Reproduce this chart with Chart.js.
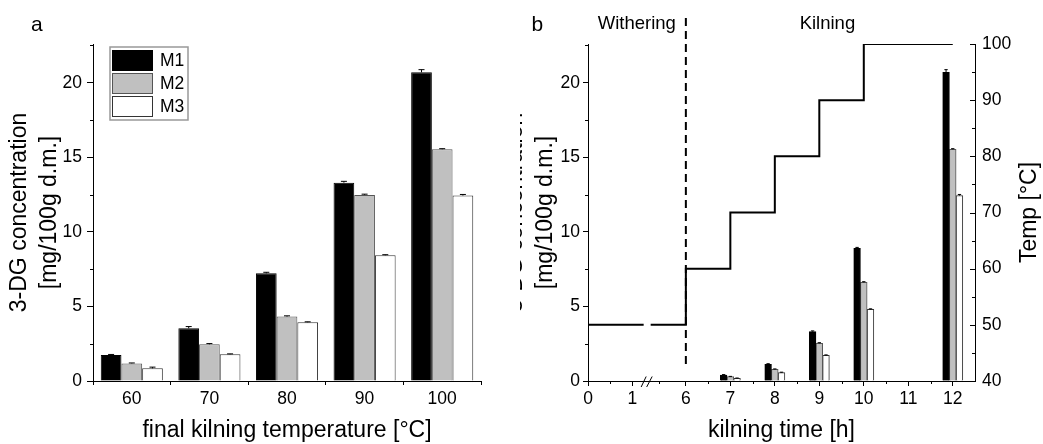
<!DOCTYPE html>
<html>
<head>
<meta charset="utf-8">
<script src="https://cdn.jsdelivr.net/npm/chart.js@4/dist/chart.umd.min.js"></script>
<style>
  body { margin: 0; background: #fff; }
  #wrap { display: flex; width: 1043px; height: 444px; }
  canvas { display: block; }
</style>
</head>
<body>
<div id="wrap">
  <canvas id="chartA" width="520" height="444"></canvas>
  <canvas id="chartB" width="523" height="444"></canvas>
</div>
<script>
// --- data: panel a (final kilning temperature) ---
const tempLabels = ["60", "70", "80", "90", "100"];
const seriesNames = ["M1", "M2", "M3"];
const m1 = [1.74, 3.53, 7.22, 13.30, 20.70];
const m2 = [1.18, 2.46, 4.32, 12.48, 15.54];
const m3 = [0.85, 1.79, 3.94, 8.43, 12.44];
const m1Err = [0.04, 0.12, 0.07, 0.09, 0.18];
const m2Err = [0.03, 0.05, 0.05, 0.05, 0.04];
const m3Err = [0.08, 0.03, 0.03, 0.04, 0.07];

// --- data: panel b (kilning time) ---
const timeLabels = ["0", "1", "6", "7", "8", "9", "10", "11", "12"];
const timeHours = [0, 1, 6, 7, 8, 9, 10, 11, 12];
const sampleHours = [7, 8, 9, 10, 12];
const kilnM1 = [0.40, 1.12, 3.31, 8.90, 20.70];
const kilnM2 = [0.29, 0.78, 2.53, 6.62, 15.54];
const kilnM3 = [0.18, 0.56, 1.72, 4.81, 12.44];
const kilnM1Err = [0.03, 0.04, 0.05, 0.06, 0.18];
const kilnM2Err = [0.02, 0.03, 0.04, 0.04, 0.04];
const kilnM3Err = [0.02, 0.03, 0.03, 0.03, 0.07];
const stepHours = [0, 6, 7, 8, 9, 10, 12];
const stepTemps = [50, 60, 70, 80, 90, 100, 100];

const FONT = "'Liberation Sans', Arial, Helvetica, sans-serif";
Chart.defaults.font.family = FONT;
Chart.defaults.color = "#000";

const barFills = ["#000000", "#c0c0c0", "#ffffff"];
const barEdges = ["#000000", "#555555", "#333333"];

// broken time axis: 1h .. 6h squeezed
const breakFrom = 1, breakTo = 6, breakSpan = 1.2;
function hourToAxis(h) {
  if (h <= breakFrom) return h;
  if (h >= breakTo) return h - breakTo + breakFrom + breakSpan;
  return breakFrom + (h - breakFrom) / (breakTo - breakFrom) * breakSpan;
}

// --- error bars ---
const errorBars = {
  id: "errorBars",
  afterDatasetsDraw(chart) {
    const ctx = chart.ctx;
    ctx.save();
    ctx.strokeStyle = "#000";
    ctx.lineWidth = 1;
    chart.data.datasets.forEach((ds, di) => {
      if (!ds.errors) return;
      const meta = chart.getDatasetMeta(di);
      const ys = chart.scales[meta.yAxisID];
      meta.data.forEach((bar, i) => {
        const raw = ds.data[i];
        const v = typeof raw === "object" ? raw.y : raw;
        const top = ys.getPixelForValue(v + ds.errors[i]);
        const cap = Math.min(6, bar.width * 0.5);
        ctx.beginPath();
        ctx.moveTo(bar.x, bar.y);
        ctx.lineTo(bar.x, top);
        ctx.moveTo(bar.x - cap / 2, top);
        ctx.lineTo(bar.x + cap / 2, top);
        ctx.stroke();
      });
    });
    ctx.restore();
  }
};

// --- minor / extra tick marks ---
const tickMarks = {
  id: "tickMarks",
  afterDraw(chart, args, opts) {
    const ctx = chart.ctx;
    const area = chart.chartArea;
    ctx.save();
    ctx.strokeStyle = "#000";
    ctx.lineWidth = 1;
    (opts.marks || []).forEach(m => {
      const s = chart.scales[m.axis];
      m.values.forEach(v => {
        const p = Math.round(s.getPixelForValue(v)) + 0.5;
        ctx.beginPath();
        if (s.isHorizontal()) {
          ctx.moveTo(p, area.bottom);
          ctx.lineTo(p, area.bottom + m.len * m.dir);
        } else {
          const x0 = s.position === "right" ? area.right : area.left;
          ctx.moveTo(x0, p);
          ctx.lineTo(x0 + m.len * m.dir, p);
        }
        ctx.stroke();
      });
    });
    ctx.restore();
  }
};

// --- panel a extras: letter and legend ---
const panelA = {
  id: "panelA",
  afterDraw(chart) {
    const ctx = chart.ctx;
    const area = chart.chartArea;
    ctx.save();
    ctx.fillStyle = "#000";
    ctx.font = "21px " + FONT;
    ctx.textBaseline = "alphabetic";
    ctx.fillText("a", 31, 31);

    const lx = area.left + 17, ly = area.top + 3;
    ctx.strokeStyle = "#999";
    ctx.lineWidth = 1.5;
    ctx.fillStyle = "#fff";
    ctx.fillRect(lx, ly, 78, 73);
    ctx.strokeRect(lx, ly, 78, 73);
    chart.data.datasets.forEach((ds, i) => {
      const y = ly + 3 + i * 23;
      ctx.fillStyle = ds.backgroundColor;
      ctx.fillRect(lx + 2, y, 41, 21);
      ctx.strokeStyle = ds.borderColor;
      ctx.lineWidth = 1;
      ctx.strokeRect(lx + 2.5, y + 0.5, 40, 20);
      ctx.fillStyle = "#000";
      ctx.font = "17.5px " + FONT;
      ctx.textBaseline = "middle";
      ctx.fillText(ds.label, lx + 50, y + 11);
    });
    ctx.restore();
  }
};

// --- panel b extras: phase divider, labels, axis break, right title ---
const panelB = {
  id: "panelB",
  afterDraw(chart) {
    const ctx = chart.ctx;
    const area = chart.chartArea;
    const xs = chart.scales.x;
    const y2 = chart.scales.y2;
    const x6 = xs.getPixelForValue(hourToAxis(breakTo));
    ctx.save();

    // dashed divider between withering and kilning
    ctx.strokeStyle = "#000";
    ctx.lineWidth = 2;
    ctx.setLineDash([8, 5]);
    ctx.beginPath();
    ctx.moveTo(x6, 18);
    ctx.lineTo(x6, area.bottom - 14);
    ctx.stroke();
    ctx.setLineDash([]);

    // axis break on the time axis
    const bx = xs.getPixelForValue(1.33);
    const by = y2.getPixelForValue(stepTemps[0]);
    ctx.fillStyle = "#fff";
    ctx.fillRect(bx - 3.5, by - 4, 7, 8);
    ctx.lineWidth = 1;
    ctx.beginPath();
    ctx.moveTo(bx - 6, area.bottom + 6);
    ctx.lineTo(bx - 1, area.bottom - 4.5);
    ctx.moveTo(bx - 0.5, area.bottom + 6);
    ctx.lineTo(bx + 5, area.bottom - 4.5);
    ctx.stroke();

    // labels
    ctx.fillStyle = "#000";
    ctx.textBaseline = "alphabetic";
    ctx.font = "21px " + FONT;
    ctx.textAlign = "left";
    ctx.fillText("b", 11.5, 31);
    ctx.font = "18.5px " + FONT;
    ctx.textAlign = "right";
    ctx.fillText("Withering", x6 - 10, 29);
    ctx.textAlign = "center";
    ctx.fillText("Kilning", (x6 + area.right) / 2 - 3, 29);

    // right axis title (reads bottom to top)
    ctx.font = "23px " + FONT;
    ctx.translate(510, (area.top + area.bottom) / 2);
    ctx.rotate(-Math.PI / 2);
    ctx.textBaseline = "middle";
    ctx.fillText("Temp [°C]", 0, 0);
    ctx.restore();
  }
};

const yTitleText = ["3-DG concentration", "[mg/100g d.m.]"];

// --- chart a ---
new Chart(document.getElementById("chartA"), {
  type: "bar",
  data: {
    labels: tempLabels,
    datasets: [m1, m2, m3].map((d, i) => ({
      label: seriesNames[i],
      data: d,
      errors: [m1Err, m2Err, m3Err][i],
      backgroundColor: barFills[i],
      borderColor: barEdges[i],
      borderWidth: 1
    }))
  },
  options: {
    responsive: false,
    animation: false,
    layout: { padding: { top: 44, right: 39, left: 0, bottom: 0 } },
    datasets: { bar: { categoryPercentage: 0.8, barPercentage: 1 } },
    plugins: {
      legend: { display: false },
      tooltip: { enabled: false },
      tickMarks: { marks: [{ axis: "y", values: [2.5, 7.5, 12.5, 17.5, 22.5], len: 3, dir: -1 }] }
    },
    scales: {
      x: {
        grid: { offset: true, drawOnChartArea: false, tickLength: 4, tickColor: "#000" },
        border: { color: "#000" },
        ticks: { font: { size: 17.5 }, padding: 4, maxRotation: 0 },
        title: { display: true, text: "final kilning temperature [°C]", font: { size: 23 }, padding: { top: 0, bottom: 0 } },
        afterFit(s) { s.height = 63; }
      },
      y: {
        min: 0, max: 22.6,
        grid: { drawOnChartArea: false, tickLength: 6, tickColor: "#000" },
        border: { color: "#000" },
        ticks: { stepSize: 5, includeBounds: false, font: { size: 17.5 }, padding: 5 },
        title: { display: true, text: yTitleText, font: { size: 23, lineHeight: 1.3 }, padding: { top: 5, bottom: 0 } },
        afterFit(s) { s.width = 93; }
      }
    }
  },
  plugins: [errorBars, tickMarks, panelA]
});

// --- chart b ---
const kilnSeries = [kilnM1, kilnM2, kilnM3];
const kilnErrs = [kilnM1Err, kilnM2Err, kilnM3Err];
new Chart(document.getElementById("chartB"), {
  type: "bar",
  data: {
    datasets: [
      {
        type: "line",
        label: "Temp",
        data: stepHours.map((h, i) => ({ x: hourToAxis(h), y: stepTemps[i] })),
        yAxisID: "y2",
        stepped: "before",
        borderColor: "#000",
        borderWidth: 2,
        pointRadius: 0,
        fill: false,
        order: 0
      },
      ...kilnSeries.map((d, i) => ({
        label: seriesNames[i],
        data: sampleHours.map((h, j) => ({ x: hourToAxis(h), y: d[j] })),
        errors: kilnErrs[i],
        yAxisID: "y",
        backgroundColor: barFills[i],
        borderColor: barEdges[i],
        borderWidth: 1,
        barThickness: 6.7,
        order: 1
      }))
    ]
  },
  options: {
    responsive: false,
    animation: false,
    layout: { padding: { top: 44, right: 0, left: 0, bottom: 0 } },
    plugins: {
      legend: { display: false },
      tooltip: { enabled: false },
      tickMarks: {
        marks: [
          { axis: "y", values: [2.5, 7.5, 12.5, 17.5, 22.5], len: 3, dir: -1 },
          { axis: "x", values: [0.5, 3.5, 6.5, 7.5, 8.5, 9.5, 10.5, 11.5].map(hourToAxis), len: 3, dir: 1 },
          { axis: "y2", values: [40, 50, 60, 70, 80, 90, 100], len: 5, dir: -1 },
          { axis: "y2", values: [45, 55, 65, 75, 85, 95], len: 3, dir: -1 }
        ]
      }
    },
    scales: {
      x: {
        type: "linear",
        offset: false,
        min: 0,
        max: hourToAxis(12.5),
        grid: { offset: false, drawOnChartArea: false, tickLength: 5, tickColor: "#000" },
        border: { color: "#000" },
        afterBuildTicks(s) { s.ticks = timeHours.map(h => ({ value: hourToAxis(h) })); },
        ticks: {
          autoSkip: false, maxRotation: 0, font: { size: 17.5 }, padding: 3,
          callback: (v, i) => timeLabels[i]
        },
        title: { display: true, text: "kilning time [h]", font: { size: 23 }, padding: { top: 0, bottom: 0 } },
        afterFit(s) { s.height = 63; }
      },
      y: {
        position: "left",
        min: 0, max: 22.6,
        grid: { drawOnChartArea: false, tickLength: 5, tickColor: "#000" },
        border: { color: "#000" },
        ticks: { stepSize: 5, includeBounds: false, font: { size: 17.5 }, padding: 3 },
        title: { display: true, text: yTitleText, font: { size: 23, lineHeight: 1.3 }, padding: { top: -19, bottom: 0 } },
        afterFit(s) { s.width = 68; }
      },
      y2: {
        position: "right",
        min: 40, max: 100,
        grid: { drawOnChartArea: false, drawTicks: false },
        border: { color: "#000" },
        ticks: { stepSize: 10, font: { size: 17.5 }, padding: 7 },
        afterFit(s) { s.width = 68; }
      }
    }
  },
  plugins: [errorBars, tickMarks, panelB]
});
</script>
</body>
</html>
